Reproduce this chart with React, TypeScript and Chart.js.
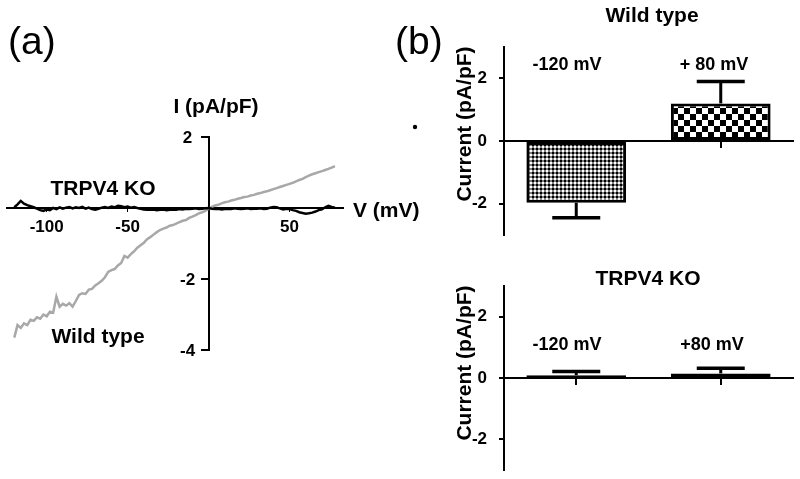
import React, { useEffect, useRef } from "react";
import { Chart, registerables } from "chart.js";
Chart.register(...registerables);

const FONT = "'Liberation Sans', Arial, sans-serif";

// Panel (a): I-V traces (voltage in mV, current density in pA/pF)
const voltages = [
  -120, -118, -116, -114, -112, -110, -108, -106, -104, -102,
  -100, -98, -96, -94, -92, -90, -88, -86, -84, -82,
  -80, -78, -76, -74, -72, -70, -68, -66, -64, -62,
  -60, -58, -56, -54, -52, -50, -48, -46, -44, -42,
  -40, -38, -36, -34, -32, -30, -28, -26, -24, -22,
  -20, -18, -16, -14, -12, -10, -8, -6, -4, -2,
  0, 2, 4, 6, 8, 10, 12, 14, 16, 18,
  20, 22, 24, 26, 28, 30, 32, 34, 36, 38,
  40, 42, 44, 46, 48, 50, 52, 54, 56, 58,
  60, 62, 64, 66, 68, 70, 72, 74, 76, 78,
];
const wildTypeIV = [
  -3.65, -3.3, -3.38, -3.25, -3.3, -3.15, -3.18, -3.08, -3.12, -3.0,
  -3.05, -2.92, -2.95, -2.5, -2.78, -2.7, -2.75, -2.68, -2.78, -2.62,
  -2.45, -2.4, -2.42, -2.3, -2.28, -2.18, -2.12, -2.05, -1.95, -1.8,
  -1.75, -1.72, -1.62, -1.55, -1.35, -1.4, -1.3, -1.22, -1.12, -1.05,
  -0.98, -0.88, -0.82, -0.75, -0.68, -0.62, -0.58, -0.55, -0.5, -0.48,
  -0.44, -0.4, -0.36, -0.34, -0.28, -0.24, -0.2, -0.15, -0.12, -0.08,
  -0.02, 0.03, 0.07, 0.09, 0.13, 0.16, 0.18, 0.21, 0.23, 0.26,
  0.28, 0.31, 0.32, 0.35, 0.37, 0.4, 0.42, 0.45, 0.47, 0.5,
  0.53, 0.56, 0.59, 0.62, 0.65, 0.68, 0.71, 0.75, 0.79, 0.82,
  0.87, 0.91, 0.95, 0.98, 1.01, 1.04, 1.07, 1.1, 1.14, 1.18,
];
const knockoutIV = [
  0.02, 0.1, 0.2, 0.12, 0.08, 0.05, 0.02, -0.02, -0.06, -0.08,
  -0.04, -0.06, 0.0, -0.03, 0.02, -0.02, 0.01, 0.03, -0.01, 0.02,
  0.0, 0.03, -0.02, 0.01, -0.03, -0.05, -0.02, 0.01, 0.03, 0.0,
  0.04, 0.02, 0.06, 0.05, 0.02, 0.04, 0.01, 0.03, 0.0, -0.02,
  -0.04, -0.05, -0.05, -0.04, -0.06, -0.05, -0.04, -0.06, -0.05, -0.04,
  -0.05, -0.03, -0.04, -0.02, -0.03, -0.02, -0.01, -0.03, -0.02, -0.01,
  0.0, -0.02, -0.03, -0.02, -0.04, -0.03, -0.02, -0.03, -0.01, -0.02,
  -0.03, -0.02, -0.01, -0.03, -0.02, -0.02, -0.01, -0.03, -0.02, 0.01,
  0.03, 0.02, -0.01, -0.04, -0.02, -0.03, -0.06, -0.08, -0.12, -0.14,
  -0.16, -0.15, -0.13, -0.1, -0.06, -0.04, 0.02, 0.06, 0.03, 0.01,
];
const ivXTicks = [-100, -50, 0, 50];
const ivYTicks = [-4, -2, 0, 2];

// Panel (b): bar summaries
const barCategories = ["-120 mV", "+80 mV"];
const wtLabels = ["-120 mV", "+ 80 mV"];
const koLabels = ["-120 mV", "+80 mV"];
const wtMeans = [-1.97, 1.2];
const wtErrors = [0.48, 0.7];
const koMeans = [0.09, 0.15];
const koErrors = [0.12, 0.17];
const barYTicks = [-2, 0, 2];

function makePattern(kind: "fine" | "coarse"): CanvasPattern | string {
  const c = document.createElement("canvas");
  const g = c.getContext("2d");
  if (!g) return "#888";
  if (kind === "fine") {
    c.width = 4;
    c.height = 4;
    g.fillStyle = "#808080";
    g.fillRect(0, 0, 4, 4);
    g.fillStyle = "#000";
    g.fillRect(0, 0, 2, 2);
    g.fillStyle = "#fff";
    g.fillRect(2, 2, 2, 2);
  } else {
    c.width = 12;
    c.height = 12;
    g.fillStyle = "#fff";
    g.fillRect(0, 0, 12, 12);
    g.fillStyle = "#000";
    g.fillRect(0, 0, 6, 6);
    g.fillRect(6, 6, 6, 6);
  }
  return g.createPattern(c, "repeat") || "#888";
}

const errorBarPlugin = (errors: number[]) => ({
  id: "errorBars",
  afterDatasetsDraw(chart: any) {
    const ctx = chart.ctx;
    const meta = chart.getDatasetMeta(0);
    const ys = chart.scales.y;
    const vals = chart.data.datasets[0].data as number[];
    ctx.save();
    ctx.strokeStyle = "#000";
    meta.data.forEach((el: any, i: number) => {
      const v = vals[i];
      const tip = v + Math.sign(v) * errors[i];
      const y1 = ys.getPixelForValue(v);
      const y2 = ys.getPixelForValue(tip);
      ctx.lineWidth = 3;
      ctx.beginPath();
      ctx.moveTo(el.x, y1);
      ctx.lineTo(el.x, y2);
      ctx.stroke();
      ctx.lineWidth = 3.5;
      ctx.beginPath();
      ctx.moveTo(el.x - 24, y2);
      ctx.lineTo(el.x + 24, y2);
      ctx.stroke();
    });
    ctx.restore();
  },
});

const textPlugin = (items: any[]) => ({
  id: "texts",
  afterDraw(chart: any) {
    const ctx = chart.ctx;
    ctx.save();
    items.forEach((t) => {
      ctx.save();
      ctx.fillStyle = "#000";
      ctx.font = t.font;
      ctx.textAlign = t.align || "center";
      ctx.textBaseline = t.baseline || "alphabetic";
      ctx.translate(t.x, t.y);
      if (t.rot) ctx.rotate(t.rot);
      if (t.dot) {
        ctx.beginPath();
        ctx.arc(0, 0, t.dot, 0, Math.PI * 2);
        ctx.fill();
      } else {
        ctx.fillText(t.text, 0, 0);
      }
      ctx.restore();
    });
    ctx.restore();
  },
});

// y tick labels of the centred I-V axis, placed left of the axis line
const ivYLabelPlugin = {
  id: "ivYLabels",
  afterDraw(chart: any) {
    const ctx = chart.ctx;
    const ys = chart.scales.y;
    const xs = chart.scales.x;
    const axisX = xs.getPixelForValue(0);
    ctx.save();
    ctx.fillStyle = "#000";
    ctx.font = `bold 17px ${FONT}`;
    ctx.textAlign = "center";
    ctx.textBaseline = "middle";
    ys.ticks.forEach((t: any) => {
      if (t.value === 0) return;
      ctx.fillText(String(t.value), axisX - 21, ys.getPixelForValue(t.value) + 1);
    });
    ctx.restore();
  },
};

const B = (s: number) => `bold ${s}px ${FONT}`;

function barConfig(
  means: number[],
  errors: number[],
  padTop: number,
  padBottom: number,
  texts: any[]
): any {
  return {
    type: "bar",
    data: {
      labels: barCategories,
      datasets: [
        {
          data: means,
          backgroundColor: [makePattern("fine"), makePattern("coarse")],
          borderColor: "#000",
          borderWidth: 3,
          borderSkipped: false,
          barPercentage: 0.69,
          categoryPercentage: 1,
        },
      ],
    },
    options: {
      animation: false,
      responsive: false,
      layout: { padding: { left: 464, right: 7, top: padTop, bottom: padBottom } },
      plugins: { legend: { display: false }, tooltip: { enabled: false } },
      scales: {
        x: {
          position: { y: 0 },
          afterFit(s: any) {
            s.height = 0;
            s.paddingLeft = 0;
            s.paddingRight = 0;
          },
          ticks: { display: false },
          grid: { offset: false, drawOnChartArea: false, drawTicks: true, tickLength: 6, color: "#000", lineWidth: 2 },
          border: { display: true, color: "#000", width: 2 },
        },
        y: {
          min: -3,
          max: 3,
          afterFit(s: any) {
            s.width = 40;
            s.paddingTop = 0;
            s.paddingBottom = 0;
          },
          afterBuildTicks(s: any) {
            s.ticks = barYTicks.map((v) => ({ value: v }));
          },
          ticks: {
            padding: 12,
            color: "#000",
            font: { family: FONT, size: 17, weight: "bold" },
          },
          grid: { drawOnChartArea: false, drawTicks: true, tickLength: 5, color: "#000", lineWidth: 2 },
          border: { display: true, color: "#000", width: 2 },
        },
      },
    },
    plugins: [errorBarPlugin(errors), textPlugin(texts)],
  };
}

export default function App() {
  const refA = useRef<HTMLCanvasElement>(null);
  const refB1 = useRef<HTMLCanvasElement>(null);
  const refB2 = useRef<HTMLCanvasElement>(null);

  useEffect(() => {
    const charts: Chart[] = [];
    const ivTexts = [
      { text: "(a)", x: 8, y: 54, font: `39px ${FONT}`, align: "left" },
      { text: "(b)", x: 395, y: 54, font: `39px ${FONT}`, align: "left" },
      { text: "I (pA/pF)", x: 216, y: 113, font: B(21) },
      { text: "TRPV4 KO", x: 103, y: 195, font: B(21) },
      { text: "Wild type", x: 98, y: 343, font: B(21) },
      { text: "V (mV)", x: 353, y: 217, font: B(21), align: "left" },
      { dot: 2.2, x: 415, y: 127 },
    ];
    if (refA.current) {
      charts.push(
        new Chart(refA.current, {
          type: "line",
          data: {
            datasets: [
              {
                label: "TRPV4 KO",
                data: voltages.map((v, i) => ({ x: v, y: knockoutIV[i] })),
                borderColor: "#000",
                borderWidth: 2.5,
                pointRadius: 0,
                tension: 0,
              },
              {
                label: "Wild type",
                data: voltages.map((v, i) => ({ x: v, y: wildTypeIV[i] })),
                borderColor: "#a8a8a8",
                borderWidth: 2.5,
                pointRadius: 0,
                tension: 0,
              },
            ],
          },
          options: {
            animation: false,
            responsive: false,
            layout: { padding: { left: 7, right: 457, top: 137, bottom: 129 } },
            plugins: { legend: { display: false }, tooltip: { enabled: false } },
            scales: {
              x: {
                type: "linear",
                min: -124.5,
                max: 83,
                position: { y: 0 },
                afterFit(s: any) {
                  s.height = 0;
                  s.paddingLeft = 0;
                  s.paddingRight = 0;
                },
                afterBuildTicks(s: any) {
                  s.ticks = ivXTicks.map((v) => ({ value: v }));
                },
                grid: { drawOnChartArea: false, drawTicks: true, tickLength: 3, color: "#000", lineWidth: 1 },
                border: { display: true, color: "#000", width: 2 },
                ticks: {
                  autoSkip: false,
                  maxRotation: 0,
                  padding: 6,
                  color: "#000",
                  font: { family: FONT, size: 17, weight: "bold" },
                  callback: (v: any) => (Number(v) === 0 ? "" : String(v)),
                },
              },
              y: {
                type: "linear",
                min: -4,
                max: 2,
                position: { x: 0 },
                afterFit(s: any) {
                  s.width = 0;
                  s.paddingTop = 0;
                  s.paddingBottom = 0;
                },
                afterBuildTicks(s: any) {
                  s.ticks = ivYTicks.map((v) => ({ value: v }));
                },
                grid: { drawOnChartArea: false, drawTicks: true, tickLength: 7, color: "#000", lineWidth: 2 },
                border: { display: true, color: "#000", width: 2 },
                ticks: { display: false },
              },
            },
          },
          plugins: [textPlugin(ivTexts), ivYLabelPlugin],
        } as any)
      );
    }
    if (refB1.current) {
      charts.push(
        new Chart(
          refB1.current,
          barConfig(wtMeans, wtErrors, 47, 244, [
            { text: "Wild type", x: 652, y: 22, font: B(21) },
            { text: wtLabels[0], x: 567, y: 70, font: B(18) },
            { text: wtLabels[1], x: 714, y: 70, font: B(18) },
            { text: "Current (pA/pF)", x: 465, y: 124, font: B(21), rot: -Math.PI / 2, baseline: "middle" },
          ])
        )
      );
    }
    if (refB2.current) {
      charts.push(
        new Chart(
          refB2.current,
          barConfig(koMeans, koErrors, 286, 9, [
            { text: "TRPV4 KO", x: 648, y: 285, font: B(21) },
            { text: koLabels[0], x: 567, y: 350, font: B(18) },
            { text: koLabels[1], x: 712, y: 350, font: B(18) },
            { text: "Current (pA/pF)", x: 465, y: 363, font: B(21), rot: -Math.PI / 2, baseline: "middle" },
          ])
        )
      );
    }
    return () => charts.forEach((c) => c.destroy());
  }, []);

  const cs: React.CSSProperties = { position: "absolute", left: 0, top: 0, width: 800, height: 479 };
  return (
    <div style={{ position: "fixed", left: 0, top: 0, width: 800, height: 479, background: "#fff" }}>
      <canvas ref={refA} width={800} height={479} style={cs} />
      <canvas ref={refB1} width={800} height={479} style={cs} />
      <canvas ref={refB2} width={800} height={479} style={cs} />
    </div>
  );
}
